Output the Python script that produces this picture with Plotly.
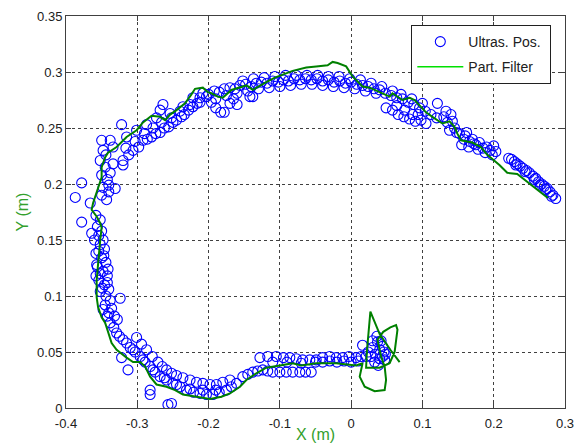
import plotly.graph_objects as go

# Particle filter trajectory (x, y in metres)
pf_x = [0.276, 0.250, 0.233, 0.219, 0.208, 0.191, 0.182, 0.170, 0.154, 0.149, 0.145, 0.138, 0.128, 0.114, 0.105,
        0.089, 0.082, 0.072, 0.058, 0.054, 0.040, 0.026, 0.016, 0.002, -0.007, -0.019, -0.026, -0.033, -0.049,
        -0.063, -0.082, -0.091, -0.107, -0.119, -0.128, -0.138, -0.147, -0.156, -0.168, -0.180, -0.187, -0.196,
        -0.201, -0.208, -0.219, -0.224, -0.233, -0.245, -0.254, -0.261, -0.268, -0.280, -0.292, -0.301, -0.315,
        -0.329, -0.341, -0.345, -0.350, -0.350, -0.355, -0.362, -0.364, -0.357, -0.352, -0.350, -0.352, -0.355,
        -0.357, -0.357, -0.355, -0.350, -0.345, -0.336, -0.329, -0.315, -0.306, -0.296, -0.289, -0.282, -0.273,
        -0.259, -0.247, -0.236, -0.217, -0.198, -0.182, -0.170, -0.156, -0.147, -0.133, -0.119, -0.100, -0.082,
        -0.070, -0.049, -0.021, 0.007, 0.016, 0.012, 0.019, 0.033, 0.047, 0.049, 0.047, 0.042, 0.037, 0.045,
        0.055, 0.063, 0.065, 0.061, 0.054, 0.040, 0.021, 0.022, 0.027, 0.040, 0.055, 0.068]
pf_y = [0.1875, 0.201, 0.209, 0.210, 0.217, 0.226, 0.233, 0.237, 0.239, 0.245, 0.251, 0.256, 0.254, 0.260, 0.264,
        0.275, 0.277, 0.275, 0.281, 0.278, 0.282, 0.286, 0.287, 0.296, 0.305, 0.308, 0.309, 0.306, 0.305,
        0.304, 0.301, 0.299, 0.295, 0.291, 0.288, 0.284, 0.288, 0.286, 0.284, 0.277, 0.278, 0.281,
        0.282, 0.286, 0.285, 0.280, 0.272, 0.266, 0.262, 0.257, 0.260, 0.261, 0.255, 0.248, 0.242,
        0.233, 0.228, 0.224, 0.215, 0.206, 0.197, 0.183, 0.177, 0.171, 0.165, 0.161, 0.150, 0.132,
        0.114, 0.099, 0.090, 0.081, 0.076, 0.058, 0.052, 0.045, 0.041, 0.041, 0.037, 0.028, 0.021,
        0.019, 0.016, 0.012, 0.010, 0.008, 0.010, 0.013, 0.019, 0.025, 0.031, 0.036, 0.038, 0.040,
        0.038, 0.040, 0.040, 0.038, 0.040, 0.028, 0.019, 0.015, 0.016, 0.025, 0.037, 0.046, 0.061, 0.068,
        0.072, 0.074, 0.070, 0.050, 0.040, 0.036, 0.036, 0.050, 0.086, 0.066, 0.052, 0.041]

# Ultrasonic position measurements
us_pts = [
    # right tail
    (0.287, 0.187), (0.283, 0.190), (0.279, 0.193), (0.275, 0.196), (0.271, 0.198), (0.267, 0.200),
    (0.263, 0.202), (0.259, 0.205), (0.255, 0.207), (0.250, 0.210), (0.246, 0.212), (0.241, 0.214),
    (0.237, 0.216), (0.233, 0.218), (0.229, 0.220), (0.225, 0.222), (0.221, 0.223),
    (0.281, 0.189), (0.273, 0.195), (0.265, 0.199), (0.257, 0.204), (0.244, 0.211), (0.231, 0.217),
    (0.175, 0.235), (0.180, 0.237), (0.185, 0.232), (0.190, 0.233), (0.195, 0.230), (0.200, 0.234),
    (0.203, 0.229), (0.198, 0.226), (0.188, 0.228), (0.178, 0.231),
    (0.152, 0.245), (0.158, 0.240), (0.162, 0.246), (0.166, 0.238), (0.155, 0.235), (0.170, 0.240),
    (0.160, 0.243), (0.165, 0.233), (0.172, 0.236),
    (0.130, 0.260), (0.135, 0.255), (0.140, 0.262), (0.145, 0.250), (0.138, 0.248), (0.121, 0.272),
    (0.142, 0.256), (0.133, 0.265), (0.148, 0.246),
    # top band
    (-0.200, 0.280), (-0.192, 0.283), (-0.185, 0.282), (-0.178, 0.285), (-0.170, 0.286), (-0.163, 0.285),
    (-0.156, 0.288), (-0.148, 0.289), (-0.140, 0.287), (-0.133, 0.290), (-0.126, 0.291), (-0.118, 0.290),
    (-0.110, 0.292), (-0.102, 0.291), (-0.095, 0.293), (-0.088, 0.292), (-0.080, 0.294), (-0.072, 0.293),
    (-0.064, 0.294), (-0.056, 0.293), (-0.048, 0.294), (-0.040, 0.292), (-0.032, 0.293), (-0.024, 0.291),
    (-0.016, 0.292), (-0.008, 0.290), (0.000, 0.291), (0.008, 0.289), (0.016, 0.288), (0.024, 0.287),
    (0.032, 0.285), (0.040, 0.284), (0.048, 0.281), (0.056, 0.279), (0.064, 0.277), (0.072, 0.276),
    (0.080, 0.273), (0.088, 0.271), (0.096, 0.268), (0.104, 0.265), (0.112, 0.262), (0.120, 0.259),
    (-0.190, 0.276), (-0.175, 0.279), (-0.160, 0.281), (-0.145, 0.283), (-0.130, 0.285), (-0.115, 0.286),
    (-0.100, 0.287), (-0.085, 0.288), (-0.070, 0.289), (-0.055, 0.289), (-0.040, 0.288), (-0.025, 0.287),
    (-0.010, 0.286), (0.005, 0.285), (0.020, 0.283), (0.035, 0.281),
    (-0.152, 0.292), (-0.137, 0.294), (-0.122, 0.295), (-0.107, 0.296), (-0.092, 0.297), (-0.077, 0.297),
    (-0.062, 0.297), (-0.047, 0.297), (-0.032, 0.296), (-0.017, 0.296), (-0.002, 0.294), (0.013, 0.293),
    (0.028, 0.290), (0.043, 0.287), (0.058, 0.283), (0.070, 0.280), (0.085, 0.276), (0.100, 0.272),
    (-0.183, 0.264), (-0.178, 0.264), (-0.170, 0.272), (-0.160, 0.271), (-0.142, 0.278), (-0.138, 0.278),
    (-0.190, 0.268), (-0.196, 0.273), (-0.165, 0.276),
    (0.049, 0.268), (0.058, 0.266), (0.066, 0.262), (0.074, 0.260), (0.082, 0.258), (0.090, 0.256),
    (0.098, 0.257), (0.105, 0.254), (0.064, 0.270), (0.075, 0.266), (0.086, 0.262), (0.094, 0.262),
    # top-left
    (-0.322, 0.253), (-0.350, 0.239), (-0.338, 0.239), (-0.264, 0.271), (-0.268, 0.266),
    (-0.320, 0.221), (-0.306, 0.230), (-0.292, 0.239), (-0.280, 0.242), (-0.268, 0.246), (-0.256, 0.251),
    (-0.245, 0.257), (-0.234, 0.262), (-0.222, 0.269), (-0.212, 0.273), (-0.203, 0.278),
    (-0.312, 0.226), (-0.298, 0.233), (-0.286, 0.240), (-0.274, 0.245), (-0.262, 0.250), (-0.250, 0.255),
    (-0.238, 0.260), (-0.228, 0.266), (-0.216, 0.272),
    (-0.316, 0.232), (-0.303, 0.238), (-0.290, 0.245), (-0.278, 0.250), (-0.266, 0.255), (-0.252, 0.259),
    (-0.240, 0.265), (-0.226, 0.271), (-0.212, 0.277),
    (-0.348, 0.230), (-0.334, 0.233), (-0.315, 0.242), (-0.301, 0.248), (-0.287, 0.253), (-0.273, 0.259),
    (-0.254, 0.263), (-0.236, 0.269), (-0.222, 0.277), (-0.208, 0.281),
    (-0.352, 0.221), (-0.345, 0.215), (-0.350, 0.208), (-0.342, 0.204), (-0.348, 0.197), (-0.340, 0.193),
    (-0.350, 0.190), (-0.343, 0.186), (-0.338, 0.210), (-0.334, 0.218), (-0.344, 0.226), (-0.340, 0.199),
    (-0.378, 0.201), (-0.387, 0.188), (-0.366, 0.183), (-0.331, 0.196), (-0.320, 0.217),
    # left column
    (-0.378, 0.166), (-0.364, 0.156), (-0.324, 0.098),
    (-0.358, 0.172), (-0.352, 0.168), (-0.356, 0.162), (-0.350, 0.158), (-0.360, 0.150), (-0.352, 0.146),
    (-0.346, 0.142), (-0.358, 0.138), (-0.350, 0.134), (-0.344, 0.130), (-0.356, 0.126), (-0.348, 0.122),
    (-0.342, 0.118), (-0.354, 0.114), (-0.346, 0.110), (-0.340, 0.106), (-0.352, 0.104), (-0.344, 0.100),
    (-0.338, 0.096), (-0.345, 0.092), (-0.336, 0.089), (-0.340, 0.085), (-0.332, 0.082), (-0.328, 0.079),
    (-0.357, 0.128), (-0.341, 0.124), (-0.358, 0.118), (-0.349, 0.107),
    (-0.354, 0.154), (-0.348, 0.150), (-0.354, 0.140), (-0.347, 0.136), (-0.352, 0.120), (-0.342, 0.112),
    # bottom-left
    (-0.348, 0.088), (-0.338, 0.076), (-0.329, 0.067), (-0.320, 0.061), (-0.310, 0.054), (-0.303, 0.050),
    (-0.296, 0.046), (-0.289, 0.041), (-0.282, 0.037), (-0.275, 0.032), (-0.268, 0.028), (-0.259, 0.025),
    (-0.250, 0.022), (-0.240, 0.019), (-0.231, 0.016), (-0.221, 0.014), (-0.212, 0.013), (-0.203, 0.012),
    (-0.194, 0.012), (-0.185, 0.014), (-0.175, 0.016), (-0.168, 0.019), (-0.161, 0.022),
    (-0.301, 0.063), (-0.294, 0.057), (-0.287, 0.052), (-0.279, 0.046), (-0.271, 0.041), (-0.265, 0.037),
    (-0.259, 0.034), (-0.252, 0.031), (-0.245, 0.029), (-0.236, 0.027), (-0.226, 0.025), (-0.217, 0.023),
    (-0.208, 0.022), (-0.198, 0.021), (-0.189, 0.021), (-0.180, 0.023), (-0.170, 0.025),
    (-0.342, 0.082), (-0.333, 0.072), (-0.325, 0.064), (-0.315, 0.058), (-0.306, 0.052), (-0.292, 0.043),
    (-0.278, 0.034), (-0.262, 0.027), (-0.245, 0.021), (-0.226, 0.017), (-0.208, 0.016), (-0.190, 0.016),
    (-0.313, 0.034), (-0.322, 0.045), (-0.282, 0.016), (-0.282, 0.012), (-0.252, 0.004), (-0.257, 0.003),
    # bottom
    (-0.152, 0.028), (-0.145, 0.030), (-0.138, 0.032), (-0.131, 0.033), (-0.124, 0.034), (-0.117, 0.033),
    (-0.110, 0.032), (-0.100, 0.032), (-0.091, 0.032), (-0.082, 0.032), (-0.072, 0.032), (-0.064, 0.032),
    (-0.056, 0.032),
    (-0.128, 0.045), (-0.117, 0.046), (-0.105, 0.046), (-0.095, 0.045), (-0.086, 0.045), (-0.077, 0.044),
    (-0.068, 0.043), (-0.058, 0.043), (-0.049, 0.043), (-0.040, 0.045), (-0.030, 0.046), (-0.021, 0.045),
    (-0.012, 0.045), (-0.003, 0.046), (0.007, 0.045), (0.014, 0.046), (0.021, 0.046),
    (-0.110, 0.041), (-0.090, 0.041), (-0.070, 0.040), (-0.050, 0.041), (-0.030, 0.042), (-0.010, 0.042),
    (0.010, 0.042), (-0.020, 0.041), (0.000, 0.041), (-0.040, 0.041),
    # end cluster
    (0.016, 0.056), (0.030, 0.054), (0.037, 0.059), (0.044, 0.046), (0.040, 0.052), (0.047, 0.043),
    (0.028, 0.046), (0.034, 0.048), (0.040, 0.044), (0.033, 0.041), (0.044, 0.055), (0.036, 0.064),
    (0.024, 0.050), (0.038, 0.038), (0.046, 0.050), (0.030, 0.060), (0.042, 0.060), (0.048, 0.048),
]
us_x = [p[0] for p in us_pts]
us_y = [p[1] for p in us_pts]

x_ticks = [-0.4, -0.3, -0.2, -0.1, 0, 0.1, 0.2, 0.3]
x_ticktext = ["-0.4", "-0.3", "-0.2", "-0.1", "0", "0.1", "0.2", "0.3"]
y_ticks = [0, 0.05, 0.1, 0.15, 0.2, 0.25, 0.3, 0.35]
y_ticktext = ["0", "0.05", "0.1", "0.15", "0.2", "0.25", "0.3", "0.35"]

fig = go.Figure()
fig.add_trace(go.Scatter(
    x=us_x, y=us_y, mode="markers", name="Ultras. Pos.\u00a0", legendgroup="a",
    marker=dict(symbol="circle-open", size=10, color="#0000ff", line=dict(width=1.1, color="#0000ff")),
))
fig.add_trace(go.Scatter(
    x=pf_x, y=pf_y, mode="lines", name="Part. Filter", showlegend=False,
    line=dict(color="#008000", width=2),
))
fig.add_trace(go.Scatter(
    x=[None], y=[None], mode="lines", name="Part. Filter", legendgroup="b",
    line=dict(color="#00e000", width=1.5),
))

axis_common = dict(
    showline=True, linecolor="#404040", linewidth=1, mirror="ticks",
    ticks="inside", ticklen=5, tickcolor="#404040",
    showgrid=True, gridcolor="#404040", gridwidth=1, griddash="3px,3px",
    zeroline=False, automargin=False,
    tickfont=dict(family="Arial", size=13, color="#202020"),
)
fig.update_layout(
    width=575, height=443,
    margin=dict(l=66, r=10, t=16, b=35),
    paper_bgcolor="white", plot_bgcolor="white",
    xaxis=dict(range=[-0.4, 0.3], tickvals=x_ticks, ticktext=x_ticktext, ticklabelstandoff=3,
               title=dict(text="X (m)", font=dict(family="Arial", size=16, color="#33a02c"), standoff=0),
               **axis_common),
    yaxis=dict(range=[0, 0.35], tickvals=y_ticks, ticktext=y_ticktext,
               title=dict(text="Y (m)", font=dict(family="Arial", size=16, color="#33a02c"), standoff=4),
               **axis_common),
    legend=dict(x=0.692, y=0.977, xanchor="left", yanchor="top",
                bgcolor="white", bordercolor="#202020", borderwidth=1,
                font=dict(family="Arial", size=14, color="#202020"),
                traceorder="grouped", tracegroupgap=4, itemwidth=46),
    showlegend=True,
)

fig.write_html("out.html")
